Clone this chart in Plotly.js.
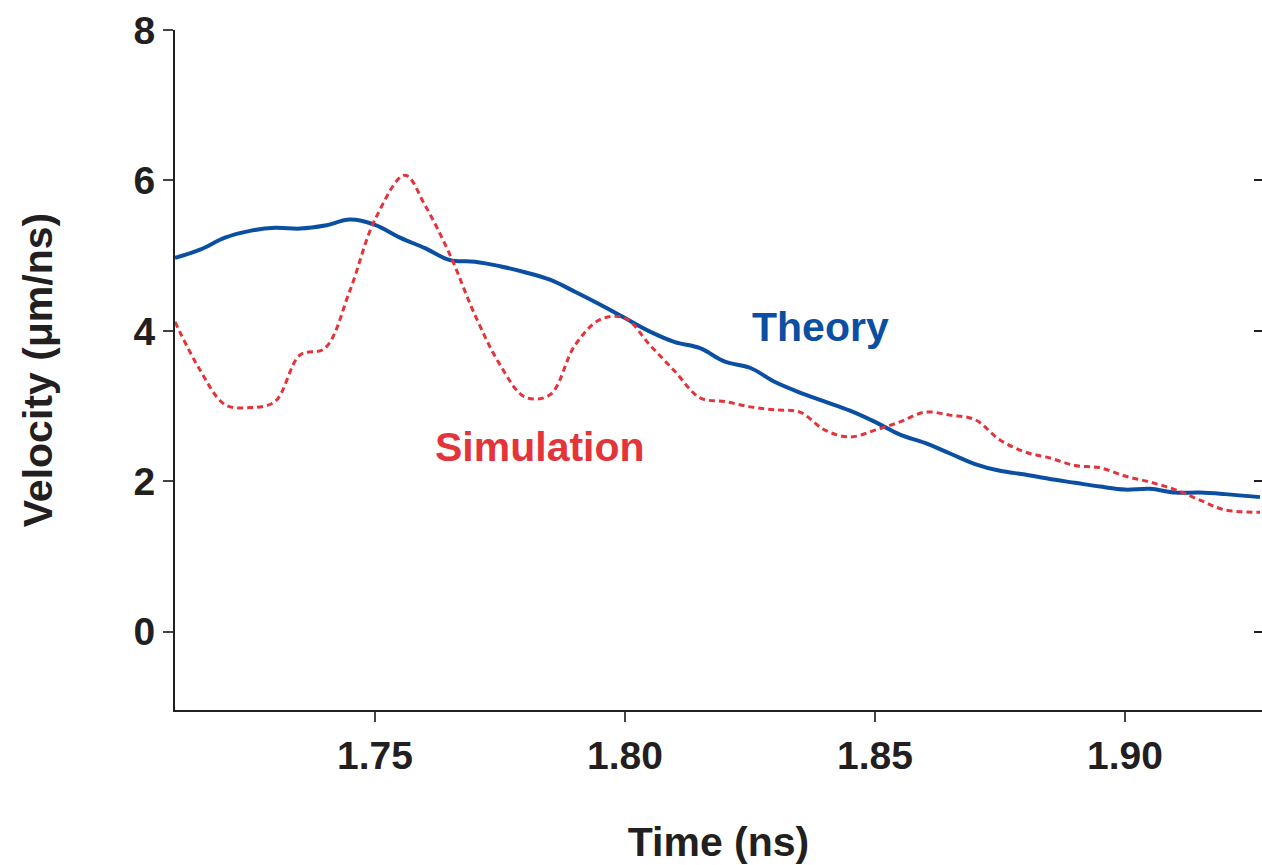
<!DOCTYPE html>
<html>
<head>
<meta charset="utf-8">
<script src="https://cdn.plot.ly/plotly-3.0.1.min.js"></script>
<style>body{margin:0;background:#fff}</style>
</head>
<body>
<div id="plot" style="width:1262px;height:865px"></div>
<script>
const theory_t = [1.710,1.715,1.720,1.725,1.730,1.735,1.740,1.745,1.750,1.755,1.760,1.765,1.770,1.775,1.780,1.785,1.790,1.795,1.800,1.805,1.810,1.815,1.820,1.825,1.830,1.835,1.840,1.845,1.850,1.855,1.860,1.865,1.870,1.875,1.880,1.885,1.890,1.895,1.900,1.905,1.910,1.915,1.920,1.927]
const theory_v = [4.97,5.08,5.24,5.33,5.37,5.36,5.40,5.48,5.41,5.24,5.10,4.94,4.92,4.86,4.78,4.68,4.52,4.35,4.17,3.99,3.85,3.77,3.59,3.51,3.32,3.18,3.06,2.94,2.79,2.62,2.51,2.37,2.23,2.14,2.09,2.03,1.98,1.93,1.89,1.90,1.85,1.85,1.83,1.79]
const sim_t = [1.710,1.715,1.720,1.725,1.730,1.735,1.740,1.745,1.750,1.756,1.760,1.765,1.770,1.775,1.780,1.785,1.790,1.795,1.800,1.805,1.810,1.815,1.820,1.825,1.830,1.835,1.840,1.845,1.850,1.855,1.860,1.865,1.870,1.875,1.880,1.885,1.890,1.895,1.900,1.905,1.910,1.915,1.920,1.927]
const sim_v = [4.12,3.48,3.02,2.98,3.06,3.68,3.77,4.54,5.48,6.07,5.67,5.01,4.21,3.55,3.12,3.15,3.81,4.15,4.17,3.81,3.46,3.11,3.06,2.99,2.95,2.92,2.68,2.59,2.68,2.79,2.92,2.88,2.82,2.55,2.39,2.31,2.21,2.18,2.07,1.99,1.89,1.75,1.62,1.59]
const x_ticks = [1.75,1.80,1.85,1.90]
const x_labels = ["1.75","1.80","1.85","1.90"]
const y_ticks = [0,2,4,6,8]

const blue = '#0b4fa3'
const red = '#e5333a'
const font = 'Liberation Sans, Arial, sans-serif'

const data = [
    {x: theory_t, y: theory_v, mode: 'lines', line: {color: blue, width: 4, shape: 'spline'}, hoverinfo: 'none'},
    {x: sim_t, y: sim_v, mode: 'lines', line: {color: red, width: 3, dash: '6px,4px', shape: 'spline'}, hoverinfo: 'none'},
    {x: [1.8], y: [0], yaxis: 'y2', mode: 'markers', marker: {opacity: 0}, hoverinfo: 'none'}
]

const layout = {
    width: 1262, height: 865,
    margin: {l: 175, r: 0, t: 30, b: 155},
    showlegend: false,
    paper_bgcolor: '#fff', plot_bgcolor: '#fff',
    font: {family: font, size: 38, color: '#231f20'},
    xaxis: {range: [1.71, 1.9274], tickvals: x_ticks, ticktext: x_labels, ticks: 'outside', ticklen: 10, tickwidth: 2,
            showline: true, linewidth: 2, linecolor: '#231f20', showgrid: false, zeroline: false,
            tickfont: {family: font, size: 39, weight: 'bold'},
            title: {text: '<b>Time (ns)</b>', font: {size: 41}, standoff: 52}},
    yaxis: {range: [-1.04, 8], tickvals: y_ticks, ticks: 'outside', ticklen: 10, tickwidth: 2,
            showline: true, linewidth: 2, linecolor: '#231f20', showgrid: false, zeroline: false,
            tickfont: {family: font, size: 39, weight: 'bold'},
            title: {text: '<b>Velocity (μm/ns)</b>', font: {size: 41}, standoff: 68}},
    yaxis2: {range: [-1.04, 8], overlaying: 'y', side: 'right', tickvals: y_ticks, ticks: 'inside', ticklen: 8, tickwidth: 2,
             tickcolor: '#231f20', showticklabels: false, showline: false, showgrid: false, zeroline: false},
    annotations: [
        {x: 1.839, y: 4.05, text: '<b>Theory</b>', showarrow: false, font: {family: font, size: 41, color: blue}},
        {x: 1.783, y: 2.45, text: '<b>Simulation</b>', showarrow: false, font: {family: font, size: 41, color: red}}
    ]
}

Plotly.newPlot(document.getElementById('plot'), data, layout, {displayModeBar: false})
</script>
</body>
</html>
